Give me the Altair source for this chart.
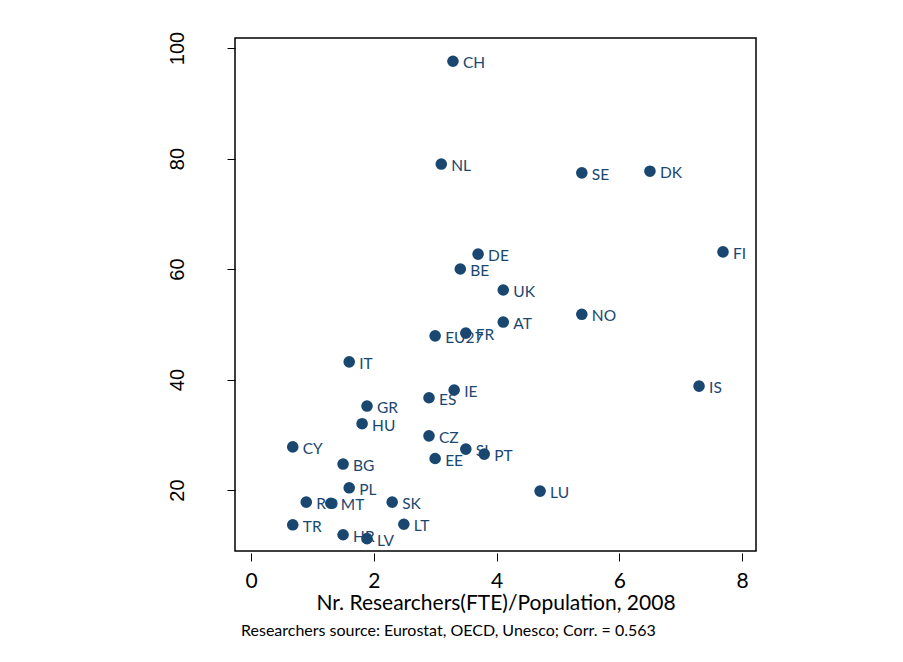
import altair as alt
import pandas as pd

countries = ["CH", "NL", "SE", "DK", "FI", "DE", "BE", "UK", "NO", "AT", "FR", "EU27",
             "IT", "IS", "IE", "ES", "GR", "HU", "CZ", "CY", "SI", "PT", "EE", "BG",
             "PL", "LU", "RO", "MT", "SK", "TR", "LT", "HR", "LV"]
researchers = [3.29, 3.10, 5.39, 6.50, 7.69, 3.70, 3.41, 4.11, 5.39, 4.11, 3.50, 3.00,
               1.60, 7.30, 3.31, 2.90, 1.89, 1.81, 2.90, 0.68, 3.50, 3.80, 3.00, 1.50,
               1.60, 4.71, 0.90, 1.30, 2.30, 0.68, 2.49, 1.50, 1.89]
score = [97.6, 79.0, 77.4, 77.7, 63.1, 62.7, 60.0, 56.2, 51.8, 50.4, 48.4, 47.9,
         43.2, 38.8, 38.1, 36.7, 35.2, 32.0, 29.8, 27.8, 27.4, 26.5, 25.7, 24.7,
         20.4, 19.8, 17.8, 17.6, 17.8, 13.7, 13.8, 11.9, 11.2]

x_ticks = [0, 2, 4, 6, 8]
y_ticks = [20, 40, 60, 80, 100]

df = pd.DataFrame({"country": countries, "x": researchers, "y": score})

navy = "#1a476f"

xs = alt.X("x:Q", scale=alt.Scale(domain=[-0.261, 8.228], nice=False, zero=False),
           axis=alt.Axis(values=x_ticks, format="d",
                         title="Nr. Researchers(FTE)/Population, 2008",
                         grid=False, domain=False, tickSize=8, tickColor="black",
                         tickWidth=1, offset=2, labelFont="Lato", labelFontSize=21,
                         labelColor="black", labelPadding=9, titleFont="Lato",
                         titleFontSize=21, titleFontWeight="normal", titleColor="black",
                         titlePadding=1, labelFlush=False))
ys = alt.Y("y:Q", scale=alt.Scale(domain=[8.96, 101.81], nice=False, zero=False),
           axis=alt.Axis(values=y_ticks, format="d", title=None, grid=False, domain=False,
                         tickSize=8, tickColor="black", tickWidth=1,
                         labelFont="Liberation Sans", labelFontSize=20, labelColor="black",
                         labelAngle=270, labelAlign="center", labelBaseline="alphabetic",
                         labelPadding=44, labelFlush=False))

points = alt.Chart(df).mark_circle(size=135, color=navy, opacity=1).encode(x=xs, y=ys)
labels = alt.Chart(df).mark_text(align="left", baseline="middle", dx=10, dy=2,
                                 font="Lato", fontSize=15.5, color=navy).encode(
    x=alt.X("x:Q"), y=alt.Y("y:Q"), text="country:N")

chart = (points + labels).properties(
    width=521, height=513,
    padding={"left": 227, "top": 30, "right": 10, "bottom": 100},
    autosize=alt.AutoSizeParams(type="none"),
    title=alt.TitleParams("Researchers source: Eurostat, OECD, Unesco; Corr. = 0.563",
                          orient="bottom", anchor="start", frame="group", font="Lato",
                          fontSize=16, fontWeight="normal", color="black", dx=6,
                          offset=10),
).configure(background="white").configure_view(stroke="black", strokeWidth=1.5)

chart.save("out.html", embed_options={"renderer": "svg", "actions": False})
